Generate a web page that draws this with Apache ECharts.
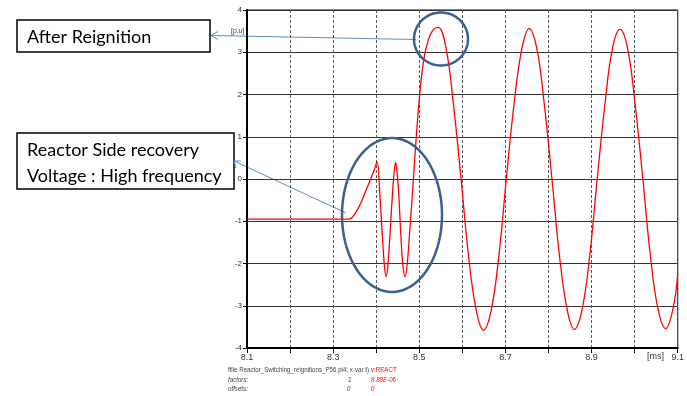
<!DOCTYPE html>
<html><head><meta charset="utf-8">
<script src="https://cdn.jsdelivr.net/npm/echarts@6/dist/echarts.min.js"></script>
<style>html,body{margin:0;padding:0;background:#fff}#c{width:687px;height:396px}</style>
</head><body><div id="c"></div>
<script>
// time [ms]
const times = [8.100, 8.330, 8.337, 8.345, 8.355, 8.365, 8.375, 8.385, 8.395, 8.402,
  8.408, 8.414, 8.419, 8.423, 8.427, 8.432, 8.438, 8.442, 8.445, 8.448,
  8.452, 8.457, 8.462, 8.467, 8.472, 8.478, 8.485, 8.492, 8.500, 8.510,
  8.521, 8.532, 8.544, 8.562, 8.579, 8.597, 8.614, 8.632, 8.649, 8.667,
  8.685, 8.702, 8.720, 8.738, 8.755, 8.773, 8.790, 8.808, 8.825, 8.843,
  8.860, 8.878, 8.896, 8.913, 8.931, 8.948, 8.966, 8.984, 9.001, 9.019,
  9.036, 9.054, 9.072, 9.089, 9.100];
// v:REACT [p.u]
const voltages = [-0.95, -0.95, -0.95, -0.90, -0.75, -0.55, -0.30, -0.05, 0.20, 0.41,
  -0.30, -1.30, -2.05, -2.31, -2.05, -1.30, -0.30, 0.20, 0.39, 0.20,
  -0.30, -1.30, -2.05, -2.31, -2.00, -1.20, -0.20, 0.85, 1.90, 2.80,
  3.30, 3.53, 3.59, 3.10, 1.79, 0.00, -1.79, -3.10, -3.58, -3.10,
  -1.79, 0.00, 1.78, 3.08, 3.56, 3.08, 1.78, 0.00, -1.78, -3.08,
  -3.56, -3.08, -1.78, 0.00, 1.77, 3.07, 3.54, 3.07, 1.77, 0.00,
  -1.77, -3.07, -3.54, -3.07, -2.25];
const xMin = 8.1, xMax = 9.1, xStep = 0.1;
const yMin = -4, yMax = 4, yStep = 1;
const xLabelShown = ['8.1', '8.3', '8.5', '8.7', '8.9', '9.1'];
const annotations = ['After Reignition', 'Reactor Side recovery', 'Voltage : High frequency'];
const footer = ['ffile Reactor_Switching_reignitions_P56.pl4; x-var t)', 'v:REACT', 'factors:', '1', '8.88E-06', 'offsets:', '0', '0'];

const chart = echarts.init(document.getElementById('c'), null, {renderer: 'canvas'});
const data = times.map((t, i) => [t, voltages[i]]);
const narrow = '"Liberation Sans Narrow", "Liberation Sans", Arial, sans-serif';
const boxFont = 'Lato, "Noto Sans", sans-serif';

function ellipsePts(cx, cy, rx, ry) {
  const p = [];
  for (let i = 0; i < 90; i++) { const a = i / 90 * Math.PI * 2; p.push([cx + rx * Math.cos(a), cy + ry * Math.sin(a)]); }
  return p;
}
function ftext(x, y, text, fill, italic) {
  return {type: 'text', x: x, y: y, scaleX: 0.88,
    style: {text: text, font: (italic ? 'italic ' : '') + '7px ' + narrow, fill: fill, textVerticalAlign: 'middle'}};
}
const ellColor = '#3c5f8c';
const arrowColor = '#5b8cc8';

chart.setOption({
  backgroundColor: '#fff',
  animation: false,
  grid: {left: 247, right: 3, top: 10, bottom: 48, show: true, borderColor: '#000', borderWidth: 1, backgroundColor: 'transparent'},
  xAxis: {
    type: 'value', min: xMin, max: xMax, interval: xStep,
    axisLine: {show: true, onZero: false, lineStyle: {color: '#000', width: 2}},
    axisTick: {show: true, inside: false, length: 5, lineStyle: {color: '#000'}},
    axisLabel: {
      color: '#333', fontSize: 9, fontFamily: narrow, margin: 5, showMaxLabel: true, showMinLabel: true,
      formatter: v => { const s = v.toFixed(1); return xLabelShown.indexOf(s) >= 0 ? s : ''; }
    },
    splitLine: {show: true, lineStyle: {color: '#555', type: [3, 2], width: 1}}
  },
  yAxis: {
    type: 'value', min: yMin, max: yMax, interval: yStep,
    axisLine: {show: true, onZero: false, lineStyle: {color: '#000', width: 2}},
    axisTick: {show: true, inside: false, length: 4, lineStyle: {color: '#000'}},
    axisLabel: {color: '#333', fontSize: 8, fontFamily: narrow, margin: 5},
    splitLine: {show: true, lineStyle: {color: '#333', width: 1}}
  },
  series: [{
    type: 'line', data: data, showSymbol: false, smooth: 0.4,
    lineStyle: {color: '#ff0000', width: 1.3}, clip: true
  }],
  graphic: [
    {type: 'text', x: 231, y: 31, scaleX: 0.85, style: {text: '[p.u]', font: '8px ' + narrow, fill: '#333', textVerticalAlign: 'middle'}},
    {type: 'text', left: 647, top: 352, style: {text: '[ms]', font: '9px ' + narrow, fill: '#333'}},
    ftext(228, 370, footer[0], '#444', false),
    ftext(371, 370, footer[1], '#ff0000', false),
    ftext(228, 380, footer[2], '#444', true),
    ftext(348, 380, footer[3], '#444', true),
    ftext(371, 380, footer[4], '#ff0000', true),
    ftext(228, 389, footer[5], '#444', true),
    ftext(347, 389, footer[6], '#444', true),
    ftext(371, 389, footer[7], '#ff0000', true),
    // boxes
    {type: 'rect', shape: {x: 17, y: 20, width: 193, height: 32}, style: {fill: '#fff', stroke: '#000', lineWidth: 1.5}},
    {type: 'text', x: 27, y: 37, style: {text: annotations[0], font: '18px ' + boxFont, fill: '#000', textVerticalAlign: 'middle'}},
    {type: 'rect', shape: {x: 17, y: 133, width: 217, height: 56}, style: {fill: '#fff', stroke: '#000', lineWidth: 1.5}},
    {type: 'text', x: 27, y: 150, style: {text: annotations[1], font: '18px ' + boxFont, fill: '#000', textVerticalAlign: 'middle'}},
    {type: 'text', x: 27, y: 176, style: {text: annotations[2], font: '18px ' + boxFont, fill: '#000', textVerticalAlign: 'middle'}},
    // arrows
    {type: 'line', shape: {x1: 416, y1: 39.5, x2: 211, y2: 35.5}, style: {stroke: arrowColor, lineWidth: 1}},
    {type: 'polyline', shape: {points: [[218, 31.5], [211, 35.5], [218, 39.5]]}, style: {stroke: arrowColor, lineWidth: 1, fill: null}},
    {type: 'line', shape: {x1: 346, y1: 213, x2: 234, y2: 161}, style: {stroke: arrowColor, lineWidth: 1}},
    {type: 'polyline', shape: {points: [[236, 168], [234, 161], [241, 161]]}, style: {stroke: arrowColor, lineWidth: 1, fill: null}},
    // ellipses
    {type: 'polygon', shape: {points: ellipsePts(441, 39, 27, 26.5)}, style: {stroke: ellColor, lineWidth: 2.5, fill: null}, z: 10},
    {type: 'polygon', shape: {points: ellipsePts(392, 215, 50, 77)}, style: {stroke: ellColor, lineWidth: 2.5, fill: null}, z: 10}
  ]
});
</script>
</body></html>
